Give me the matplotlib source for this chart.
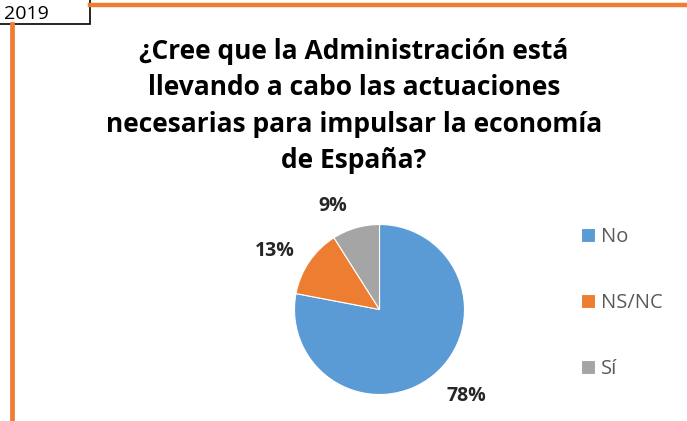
import matplotlib
matplotlib.use("Agg")
import matplotlib.pyplot as plt
from matplotlib.patches import Rectangle
from matplotlib.lines import Line2D
import numpy as np

categories = ["No", "NS/NC", "Sí"]
values = [78, 13, 9]
colors = ["#5B9BD5", "#ED7D31", "#A5A5A5"]
title = "¿Cree que la Administración está\nllevando a cabo las actuaciones\nnecesarias para impulsar la economía\nde España?"
year_label = "2019"

W, H = 687, 421
fig = plt.figure(figsize=(W / 100, H / 100), dpi=100)
plt.rcParams['font.family'] = ['Open Sans', 'DejaVu Sans']
FAM = ['Open Sans', 'DejaVu Sans']

def fx(px):
    return px / W

def fy(py):
    return 1 - py / H

# frame lines
orange = "#ED7D31"
fig.add_artist(Line2D([fx(90), 1], [fy(4.5), fy(4.5)], color=orange, lw=3.2, transform=fig.transFigure))
fig.add_artist(Line2D([fx(12.5), fx(12.5)], [fy(24), 0], color=orange, lw=3.4, transform=fig.transFigure))

# year box
fig.add_artist(Rectangle((fx(-2), fy(24)), fx(92), fy(0) - fy(24) + 0.01, transform=fig.transFigure,
                         facecolor="white", edgecolor="black", lw=1.2))
fig.text(fx(26), fy(19), year_label, fontsize=14, ha="center", va="baseline", color="black", family=FAM)

# title
fig.text(fx(354), fy(106), title, fontsize=19, fontweight="bold", ha="center", va="center",
         linespacing=1.45, color="black", family=FAM)

# pie
cx, cy, r = 379.5, 309.5, 85
ax = fig.add_axes([fx(cx - r), fy(cy + r), fx(2 * r), fy(cy - r) - fy(cy + r)])
wedges, texts = ax.pie(values, colors=colors, startangle=90, counterclock=False, radius=1,
                       wedgeprops=dict(linewidth=0.8, edgecolor="white"))
ax.set_xlim(-1, 1)
ax.set_ylim(-1, 1)
ax.set_aspect("equal", adjustable="box")
ax.axis("off")

# data labels (angle in degrees, distance in radii)
label_pos = [(-44.7, 1.44), (151, 1.41), (114.5, 1.34)]
for v, (ang, d) in zip(values, label_pos):
    a = np.deg2rad(ang)
    ax.text(d * np.cos(a), d * np.sin(a), f"{v}%", ha="center", va="center", fontsize=14,
            fontweight="bold", color="#262626", family=FAM, clip_on=False)

# legend
leg = fig.legend(wedges, categories, loc="upper left", bbox_to_anchor=(fx(573), fy(219)),
                 frameon=False, labelspacing=2.28, handlelength=0.7, handleheight=0.7,
                 handletextpad=0.3, borderaxespad=0, prop={'family': FAM, 'size': 14.5})
for t in leg.get_texts():
    t.set_color("#595959")

fig.savefig("out.png", dpi=100)
